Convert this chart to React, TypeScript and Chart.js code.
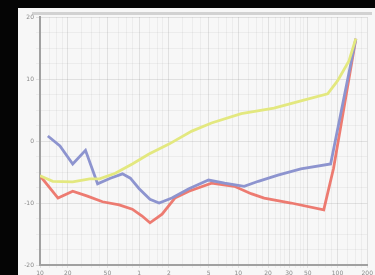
import React, { useEffect, useRef } from "react";
import { Chart, registerables } from "chart.js";
Chart.register(...registerables);

// x positions of the category ticks (axis units) and their labels
const xTickPos = [0, 8.5, 20.6, 30.3, 39.4, 51.5, 60.6, 69.7, 76.1, 81.8, 90.9, 100];
const xTickLabels = ["10", "20", "50", "1", "2", "5", "10", "20", "30", "50", "100", "200"];
const yTicks = [20, 10, 0, -10, -20];

const redX = [0, 5.5, 10, 14.5, 19.1, 24.2, 28.2, 31.2, 33.6, 37.3, 41.2, 45.5, 52.4, 59.4, 64.5, 68.5, 76.7, 86.7, 89.7, 96.5];
const redY = [-5.6, -9.2, -8.1, -8.9, -9.8, -10.3, -11.0, -12.1, -13.2, -11.8, -9.2, -8.1, -6.8, -7.3, -8.5, -9.2, -10.0, -11.1, -4.4, 16.5];

const blueX = [2.4, 6.1, 10, 13.9, 17.6, 21.5, 25.2, 27.6, 30.3, 33.6, 36.4, 40.3, 45.5, 51.5, 56.4, 62.4, 66.7, 72.7, 79.7, 88.8, 96.5];
const blueY = [0.8, -0.8, -3.7, -1.5, -6.9, -6.0, -5.3, -6.0, -7.7, -9.4, -10.0, -9.2, -7.7, -6.3, -6.8, -7.3, -6.5, -5.5, -4.5, -3.7, 16.5];

const yellowX = [0, 3.9, 10, 15.2, 18.2, 23.0, 28.2, 33.3, 39.4, 46.4, 52.4, 61.5, 71.5, 80.6, 87.9, 90.9, 94.4, 96.5];
const yellowY = [-5.6, -6.5, -6.6, -6.1, -6.1, -5.2, -3.7, -2.1, -0.5, 1.6, 2.9, 4.4, 5.3, 6.6, 7.6, 9.7, 12.9, 16.5];

const pts = (xs: number[], ys: number[]) => xs.map((x, i) => ({ x, y: ys[i] }));

export default function App() {
  const ref = useRef<HTMLCanvasElement>(null);
  useEffect(() => {
    if (!ref.current) return;
    const minor: number[] = [];
    for (let i = 0; i < xTickPos.length - 1; i++) {
      const a = xTickPos[i], b = xTickPos[i + 1];
      minor.push(a + (b - a) * 0.35, a + (b - a) * 0.6, a + (b - a) * 0.8);
    }
    const chart = new Chart(ref.current, {
      type: "line",
      data: {
        datasets: [
          { data: pts(yellowX, yellowY), borderColor: "#e3e87f", borderWidth: 2.8, pointRadius: 0, tension: 0 },
          { data: pts(blueX, blueY), borderColor: "#8d94cf", borderWidth: 2.8, pointRadius: 0, tension: 0 },
          { data: pts(redX, redY), borderColor: "rgba(236,106,94,0.88)", borderWidth: 2.8, pointRadius: 0, tension: 0 },
        ],
      },
      options: {
        animation: false,
        responsive: false,
        layout: { padding: { top: 9, right: 5, left: 0, bottom: 0 } },
        plugins: { legend: { display: false }, tooltip: { enabled: false } },
        scales: {
          x: {
            type: "linear",
            min: 0,
            max: 100,
            afterBuildTicks: (s: any) => {
              const all = [...xTickPos, ...minor].sort((a, b) => a - b);
              s.ticks = all.map((v) => ({ value: v }));
            },
            afterFit: (s: any) => { s.height = 10; },
            ticks: {
              autoSkip: false,
              maxRotation: 0,
              padding: 2,
              font: { size: 6, family: "DejaVu Sans" },
              color: "#8a8a8a",
              callback: (v: any) => {
                const i = xTickPos.indexOf(v);
                return i >= 0 ? xTickLabels[i] : "";
              },
            },
            grid: {
              color: (c: any) => (xTickPos.includes(c.tick?.value) ? "rgba(0,0,0,0.09)" : "rgba(0,0,0,0.045)"),
              tickLength: 3,
            },
            border: { color: "#a0a0a0", width: 2 },
          },
          y: {
            min: -20,
            max: 20,
            afterBuildTicks: (s: any) => {
              const t: number[] = [];
              for (let v = -20; v <= 20; v += 2.5) t.push(v);
              s.ticks = t.map((v) => ({ value: v }));
            },
            afterFit: (s: any) => { s.width = 22; },
            ticks: {
              autoSkip: false,
              padding: 2,
              font: { size: 6, family: "DejaVu Sans" },
              color: "#8a8a8a",
              callback: (v: any) => (yTicks.includes(v) ? String(v) : ""),
            },
            grid: {
              color: (c: any) => (yTicks.includes(c.tick?.value) ? "rgba(0,0,0,0.09)" : "rgba(0,0,0,0.045)"),
              tickLength: 4,
            },
            border: { color: "#a0a0a0", width: 2 },
          },
        },
      },
    });
    return () => chart.destroy();
  }, []);
  return (
    <div style={{ position: "fixed", left: 0, top: 0, width: 375, height: 275, background: "#050505", overflow: "hidden" }}>
      <div style={{ position: "absolute", left: 18, top: 8, width: 357, height: 267, background: "#f7f7f7" }}>
        <div style={{ position: "absolute", left: 14, top: 4, width: 340, height: 3, background: "#d2d2d2" }} />
        <canvas ref={ref} width={357} height={267} style={{ position: "absolute", left: 0, top: 0 }} />
      </div>
    </div>
  );
}
